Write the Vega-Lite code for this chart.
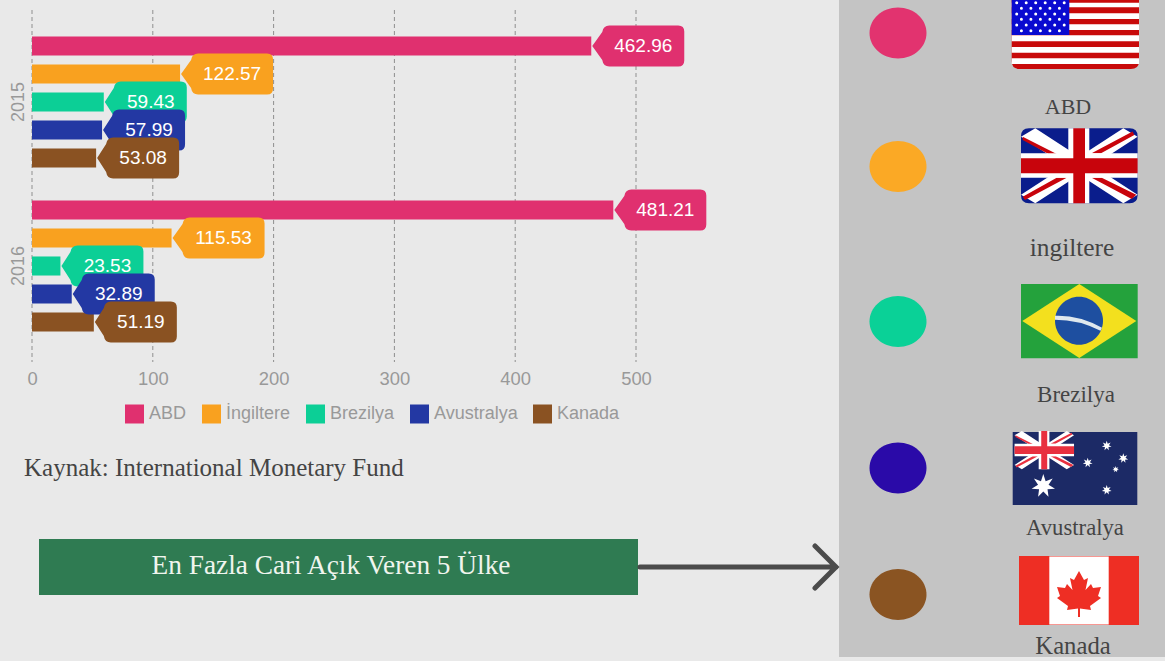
{"$schema":"https://vega.github.io/schema/vega-lite/v6.json","width":1165,"height":661,"padding":0,"autosize":"none","background":"#e9e9e9","config":{"view":{"stroke":null},"axis":{"disable":true}},"resolve":{"scale":{"x":"independent","y":"independent"}},"layer":[
{"data":{"values":[{"katman":"süsleme"}]},"layer":[
{"mark":{"type":"rect","fill":"#c4c4c4"},"encoding":{"x":{"datum":839,"scale":{"domain":[0,1165],"nice":false,"zero":false}},"x2":{"datum":1165},"y":{"datum":0,"scale":{"domain":[661,0],"nice":false,"zero":false}},"y2":{"datum":657}}},
{"mark":{"type":"rect","fill":"#2f7b52"},"encoding":{"x":{"datum":39},"x2":{"datum":638},"y":{"datum":539},"y2":{"datum":595}}},
{"mark":{"type":"text","text":"En Fazla Cari Açık Veren 5 Ülke","font":"Liberation Serif","fontSize":27.3,"fill":"#f0f5ee","align":"center","baseline":"middle"},"encoding":{"x":{"datum":331},"y":{"datum":566}}},
{"mark":{"type":"text","text":"Kaynak: International Monetary Fund","font":"Liberation Serif","fontSize":25,"fill":"#444444","align":"left","baseline":"middle"},"encoding":{"x":{"datum":24},"y":{"datum":468}}},
{"mark":{"type":"point","shape":"M-196 0L0 0M-21 -21L0 0L-21 21","size":4,"filled":false,"stroke":"#4b4b4b","strokeWidth":5,"strokeCap":"round","opacity":1},"encoding":{"x":{"datum":836},"y":{"datum":567}}},
{"mark":{"type":"point","shape":"M-28.5 0A28.5 25.5 0 1 1 28.5 0A28.5 25.5 0 1 1 -28.5 0Z","size":4,"filled":true,"fill":"#e2336f","opacity":1},"encoding":{"x":{"datum":898},"y":{"datum":33}}},
{"mark":{"type":"point","shape":"M-28.5 0A28.5 25.5 0 1 1 28.5 0A28.5 25.5 0 1 1 -28.5 0Z","size":4,"filled":true,"fill":"#fba925","opacity":1},"encoding":{"x":{"datum":898},"y":{"datum":166.5}}},
{"mark":{"type":"point","shape":"M-28.5 0A28.5 25.5 0 1 1 28.5 0A28.5 25.5 0 1 1 -28.5 0Z","size":4,"filled":true,"fill":"#0ad197","opacity":1},"encoding":{"x":{"datum":898},"y":{"datum":321.5}}},
{"mark":{"type":"point","shape":"M-28.5 0A28.5 25.5 0 1 1 28.5 0A28.5 25.5 0 1 1 -28.5 0Z","size":4,"filled":true,"fill":"#2a0aa8","opacity":1},"encoding":{"x":{"datum":898},"y":{"datum":468}}},
{"mark":{"type":"point","shape":"M-28.5 0A28.5 25.5 0 1 1 28.5 0A28.5 25.5 0 1 1 -28.5 0Z","size":4,"filled":true,"fill":"#8a5422","opacity":1},"encoding":{"x":{"datum":898},"y":{"datum":594.5}}},
{"mark":{"type":"point","shape":"M0 0L127.3 0L127.3 61Q127.3 69 119 69L8 69Q0 69 0 61Z","size":4,"filled":true,"fill":"#c80a0a","opacity":1},"encoding":{"x":{"datum":1011.7},"y":{"datum":0}}},
{"mark":{"type":"point","shape":"M0 2.7L127.3 2.7L127.3 7.3L0 7.3ZM0 13.3L127.3 13.3L127.3 19L0 19ZM0 24.3L127.3 24.3L127.3 30L0 30ZM0 35.3L127.3 35.3L127.3 41.3L0 41.3ZM0 47L127.3 47L127.3 52.7L0 52.7ZM0 58.3L127.3 58.3L127.3 64L0 64Z","size":4,"filled":true,"fill":"#ffffff","opacity":1},"encoding":{"x":{"datum":1011.7},"y":{"datum":0}}},
{"mark":{"type":"point","shape":"M0 0L57.6 0L57.6 35L0 35Z","size":4,"filled":true,"fill":"#0a0ad0","opacity":1},"encoding":{"x":{"datum":1011.7},"y":{"datum":0}}},
{"mark":{"type":"point","shape":"M5 2.7L56 2.7M9.7 8.3L52 8.3M5 14L56 14M9.7 19.3L52 19.3M5 25L56 25M9.7 30.7L52 30.7","size":4,"filled":false,"stroke":"#ffffff","strokeWidth":3,"strokeCap":"round","strokeDash":[0,9.5],"opacity":1},"encoding":{"x":{"datum":1011.7},"y":{"datum":0}}},
{"mark":{"type":"point","shape":"M-50.3 -37.5L50.3 -37.5Q58.3 -37.5 58.3 -29.5L58.3 29.5Q58.3 37.5 50.3 37.5L-50.3 37.5Q-58.3 37.5 -58.3 29.5L-58.3 -29.5Q-58.3 -37.5 -50.3 -37.5Z","size":4,"filled":true,"fill":"#0a1d8c","opacity":1},"encoding":{"x":{"datum":1079.3},"y":{"datum":165.8}}},
{"mark":{"type":"point","shape":"M-58.3 -29L-44 -37.5L58.3 29L44 37.5ZM-44 37.5L-58.3 29L44 -37.5L58.3 -29Z","size":4,"filled":true,"fill":"#ffffff","opacity":1},"encoding":{"x":{"datum":1079.3},"y":{"datum":165.8}}},
{"mark":{"type":"point","shape":"M-56.6 -29.1L-22.6 -11.8L-30.9 -11.8L-56.6 -25.8ZM53.3 -34.2L55 -30.8L21.7 -12.5L12.3 -12.5ZM-12.6 11.9L-54.3 34.2L-56.6 30.9L-22.6 11.9ZM12.4 11.9L22.4 11.9L57 29L52.4 33.2Z","size":4,"filled":true,"fill":"#c8040c","opacity":1},"encoding":{"x":{"datum":1079.3},"y":{"datum":165.8}}},
{"mark":{"type":"point","shape":"M-11 -37.5L10 -37.5L10 37.5L-11 37.5ZM-58.3 -12.5L58.3 -12.5L58.3 11.9L-58.3 11.9Z","size":4,"filled":true,"fill":"#ffffff","opacity":1},"encoding":{"x":{"datum":1079.3},"y":{"datum":165.8}}},
{"mark":{"type":"point","shape":"M-6 -37.5L5.7 -37.5L5.7 37.5L-6 37.5ZM-58.3 -7.5L58.3 -7.5L58.3 7.5L-58.3 7.5Z","size":4,"filled":true,"fill":"#c8040c","opacity":1},"encoding":{"x":{"datum":1079.3},"y":{"datum":165.8}}},
{"mark":{"type":"rect","fill":"#24a23c"},"encoding":{"x":{"datum":1021},"x2":{"datum":1137.7},"y":{"datum":284},"y2":{"datum":358.3}}},
{"mark":{"type":"point","shape":"M-57 0L0 -37L57 0L0 37Z","size":4,"filled":true,"fill":"#f3e01e","opacity":1},"encoding":{"x":{"datum":1079.3},"y":{"datum":321}}},
{"mark":{"type":"point","shape":"M-24 0A24 24 0 1 1 24 0A24 24 0 1 1 -24 0Z","size":4,"filled":true,"fill":"#1e4fa0","opacity":1},"encoding":{"x":{"datum":1079},"y":{"datum":320.7}}},
{"mark":{"type":"point","shape":"M-24 -5Q0 -6 23 7L21.5 10Q0 -1 -24 -1Z","size":4,"filled":true,"fill":"#dfe8ee","opacity":1},"encoding":{"x":{"datum":1079},"y":{"datum":320.7}}},
{"mark":{"type":"rect","fill":"#1c2a66"},"encoding":{"x":{"datum":1012.7},"x2":{"datum":1137.3},"y":{"datum":432},"y2":{"datum":505}}},
{"mark":{"type":"point","shape":"M-58.3 -29L-44 -37.5L58.3 29L44 37.5ZM-44 37.5L-58.3 29L44 -37.5L58.3 -29Z","size":1.04,"filled":true,"fill":"#ffffff","opacity":1},"encoding":{"x":{"datum":1044.3},"y":{"datum":450.1}}},
{"mark":{"type":"point","shape":"M-56.6 -29.1L-22.6 -11.8L-30.9 -11.8L-56.6 -25.8ZM53.3 -34.2L55 -30.8L21.7 -12.5L12.3 -12.5ZM-12.6 11.9L-54.3 34.2L-56.6 30.9L-22.6 11.9ZM12.4 11.9L22.4 11.9L57 29L52.4 33.2Z","size":1.04,"filled":true,"fill":"#e8303f","opacity":1},"encoding":{"x":{"datum":1044.3},"y":{"datum":450.1}}},
{"mark":{"type":"point","shape":"M-11 -37.5L10 -37.5L10 37.5L-11 37.5ZM-58.3 -12.5L58.3 -12.5L58.3 11.9L-58.3 11.9Z","size":1.04,"filled":true,"fill":"#ffffff","opacity":1},"encoding":{"x":{"datum":1044.3},"y":{"datum":450.1}}},
{"mark":{"type":"point","shape":"M-6 -37.5L5.7 -37.5L5.7 37.5L-6 37.5ZM-58.3 -7.5L58.3 -7.5L58.3 7.5L-58.3 7.5Z","size":1.04,"filled":true,"fill":"#e8303f","opacity":1},"encoding":{"x":{"datum":1044.3},"y":{"datum":450.1}}},
{"mark":{"type":"point","shape":"M0 -1L0.195 -0.405L0.782 -0.623L0.439 -0.1L0.975 0.2225L0.352 0.281L0.434 0.901L0 0.45L-0.434 0.901L-0.352 0.281L-0.975 0.2225L-0.439 -0.1L-0.782 -0.623L-0.195 -0.405Z","size":576,"filled":true,"fill":"#ffffff","opacity":1},"encoding":{"x":{"datum":1043.3},"y":{"datum":486}}},
{"mark":{"type":"point","shape":"M0 -1L0.195 -0.405L0.782 -0.623L0.439 -0.1L0.975 0.2225L0.352 0.281L0.434 0.901L0 0.45L-0.434 0.901L-0.352 0.281L-0.975 0.2225L-0.439 -0.1L-0.782 -0.623L-0.195 -0.405Z","size":100,"filled":true,"fill":"#ffffff","opacity":1},"encoding":{"x":{"datum":1106.7},"y":{"datum":445.7}}},
{"mark":{"type":"point","shape":"M0 -1L0.195 -0.405L0.782 -0.623L0.439 -0.1L0.975 0.2225L0.352 0.281L0.434 0.901L0 0.45L-0.434 0.901L-0.352 0.281L-0.975 0.2225L-0.439 -0.1L-0.782 -0.623L-0.195 -0.405Z","size":100,"filled":true,"fill":"#ffffff","opacity":1},"encoding":{"x":{"datum":1087.7},"y":{"datum":462.7}}},
{"mark":{"type":"point","shape":"M0 -1L0.195 -0.405L0.782 -0.623L0.439 -0.1L0.975 0.2225L0.352 0.281L0.434 0.901L0 0.45L-0.434 0.901L-0.352 0.281L-0.975 0.2225L-0.439 -0.1L-0.782 -0.623L-0.195 -0.405Z","size":100,"filled":true,"fill":"#ffffff","opacity":1},"encoding":{"x":{"datum":1123.3},"y":{"datum":458.3}}},
{"mark":{"type":"point","shape":"M0 -1L0.195 -0.405L0.782 -0.623L0.439 -0.1L0.975 0.2225L0.352 0.281L0.434 0.901L0 0.45L-0.434 0.901L-0.352 0.281L-0.975 0.2225L-0.439 -0.1L-0.782 -0.623L-0.195 -0.405Z","size":45,"filled":true,"fill":"#ffffff","opacity":1},"encoding":{"x":{"datum":1115.7},"y":{"datum":469.3}}},
{"mark":{"type":"point","shape":"M0 -1L0.195 -0.405L0.782 -0.623L0.439 -0.1L0.975 0.2225L0.352 0.281L0.434 0.901L0 0.45L-0.434 0.901L-0.352 0.281L-0.975 0.2225L-0.439 -0.1L-0.782 -0.623L-0.195 -0.405Z","size":100,"filled":true,"fill":"#ffffff","opacity":1},"encoding":{"x":{"datum":1106.7},"y":{"datum":490}}},
{"mark":{"type":"rect","fill":"#ee2e24"},"encoding":{"x":{"datum":1019},"x2":{"datum":1139},"y":{"datum":556},"y2":{"datum":625}}},
{"mark":{"type":"rect","fill":"#ffffff"},"encoding":{"x":{"datum":1049.3},"x2":{"datum":1108.7},"y":{"datum":556.5},"y2":{"datum":624.5}}},
{"mark":{"type":"point","shape":"M0 -22L-5 -13L-9 -15L-6.5 -3L-12 -9L-14 -5L-22 -6L-19 3L-22 5L-11 13L-12 17L-1 15.5L-1 24L1 24L1 15.5L12 17L11 13L22 5L19 3L22 -6L14 -5L12 -9L6.5 -3L9 -15L5 -13Z","size":4,"filled":true,"fill":"#ee2e24","opacity":1},"encoding":{"x":{"datum":1079},"y":{"datum":593}}},
{"mark":{"type":"text","text":"ABD","font":"Liberation Serif","fontSize":22,"fill":"#444444","align":"center","baseline":"middle"},"encoding":{"x":{"datum":1068},"y":{"datum":107}}},
{"mark":{"type":"text","text":"ingiltere","font":"Liberation Serif","fontSize":25.4,"fill":"#444444","align":"center","baseline":"middle"},"encoding":{"x":{"datum":1072},"y":{"datum":248}}},
{"mark":{"type":"text","text":"Brezilya","font":"Liberation Serif","fontSize":23,"fill":"#444444","align":"center","baseline":"middle"},"encoding":{"x":{"datum":1076},"y":{"datum":395}}},
{"mark":{"type":"text","text":"Avustralya","font":"Liberation Serif","fontSize":22.7,"fill":"#444444","align":"center","baseline":"middle"},"encoding":{"x":{"datum":1075},"y":{"datum":528}}},
{"mark":{"type":"text","text":"Kanada","font":"Liberation Serif","fontSize":24.7,"fill":"#444444","align":"center","baseline":"middle"},"encoding":{"x":{"datum":1073},"y":{"datum":647}}}
]},
{"data":{"values":[{"deger":0},{"deger":100},{"deger":200},{"deger":300},{"deger":400},{"deger":500}]},"mark":{"type":"rule","stroke":"#8f8f8f","strokeWidth":1,"strokeDash":[4,3]},"encoding":{"x":{"field":"deger","type":"quantitative","scale":{"domain":[-26.49,937.91],"nice":false,"zero":false}},"y":{"datum":10,"scale":{"domain":[661,0],"nice":false,"zero":false}},"y2":{"datum":362}}},
{"data":{"values":[
{"yil":"2015","ulke":"ABD","acik":462.96},{"yil":"2015","ulke":"İngiltere","acik":122.57},{"yil":"2015","ulke":"Brezilya","acik":59.43},{"yil":"2015","ulke":"Avustralya","acik":57.99},{"yil":"2015","ulke":"Kanada","acik":53.08},
{"yil":"2016","ulke":"ABD","acik":481.21},{"yil":"2016","ulke":"İngiltere","acik":115.53},{"yil":"2016","ulke":"Brezilya","acik":23.53},{"yil":"2016","ulke":"Avustralya","acik":32.89},{"yil":"2016","ulke":"Kanada","acik":51.19}]},
"encoding":{
"x":{"field":"acik","type":"quantitative","stack":null,"title":null,"scale":{"domain":[-26.49,937.91],"nice":false,"zero":false},"axis":{"disable":false,"values":[0,100,200,300,400,500],"grid":false,"domain":false,"ticks":false,"offset":-299,"labelPadding":7,"labelFontSize":18.4,"labelFont":"Liberation Sans","labelColor":"#999999","title":null}},
"y":{"field":"yil","type":"nominal","title":null,"scale":{"type":"band","domain":["2015","2016"],"range":[20,348],"paddingInner":0,"paddingOuter":0},"axis":{"disable":false,"orient":"left","offset":-32,"domain":false,"ticks":false,"labelAngle":-90,"labelAlign":"center","labelBaseline":"bottom","labelPadding":5,"labelFontSize":18,"labelFont":"Liberation Sans","labelColor":"#999999","title":null}},
"yOffset":{"field":"ulke","type":"nominal","scale":{"type":"band","domain":["ABD","İngiltere","Brezilya","Avustralya","Kanada"],"paddingInner":0.32,"paddingOuter":0.5886}},
"color":{"field":"ulke","type":"nominal","scale":{"domain":["ABD","İngiltere","Brezilya","Avustralya","Kanada"],"range":["#e0306f","#f9a11f","#0ccf96","#2338a3","#8a5222"]},"legend":{"orient":"none","legendX":125,"legendY":404.5,"direction":"horizontal","columns":5,"title":null,"symbolType":"square","symbolSize":361,"symbolStrokeWidth":0,"labelFontSize":18,"labelFont":"Liberation Sans","labelColor":"#999999","labelOffset":5,"columnPadding":15}}},
"layer":[
{"mark":{"type":"bar"}},
{"transform":[{"filter":"datum.acik >= 100"}],"mark":{"type":"point","shape":"M1 0L11 -14Q12 -20.5 18 -20.5L87 -20.5Q93 -20.5 93 -14.5L93 14.5Q93 20.5 87 20.5L18 20.5Q12 20.5 11 14Z","size":4,"filled":true,"opacity":1}},
{"transform":[{"filter":"datum.acik < 100"}],"mark":{"type":"point","shape":"M1 0L10 -14Q11 -20.5 17 -20.5L77 -20.5Q83 -20.5 83 -14.5L83 14.5Q83 20.5 77 20.5L17 20.5Q11 20.5 10 14Z","size":4,"filled":true,"opacity":1}},
{"transform":[{"filter":"datum.acik >= 100"}],"mark":{"type":"text","dx":52,"align":"center","baseline":"middle","font":"Liberation Sans","fontSize":19},"encoding":{"text":{"field":"acik","type":"quantitative","format":".2f"},"color":{"value":"#ffffff"}}},
{"transform":[{"filter":"datum.acik < 100"}],"mark":{"type":"text","dx":47,"align":"center","baseline":"middle","font":"Liberation Sans","fontSize":19},"encoding":{"text":{"field":"acik","type":"quantitative","format":".2f"},"color":{"value":"#ffffff"}}}
]}
]}
